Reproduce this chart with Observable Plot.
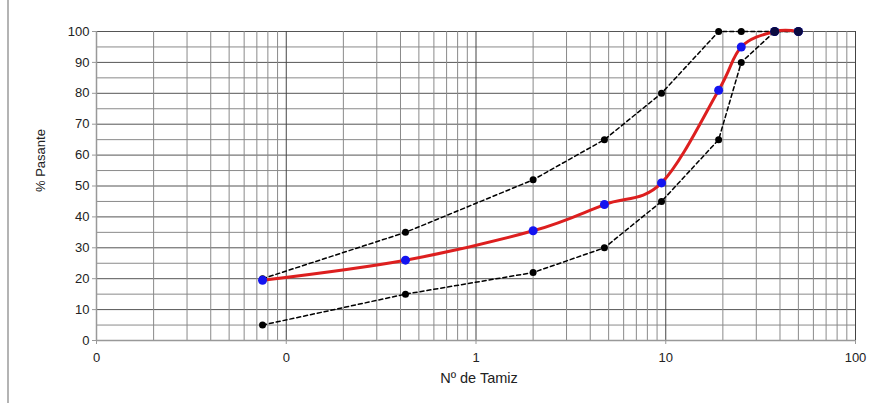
<!DOCTYPE html>
<html>
<head>
<meta charset="utf-8">
<script src="https://cdn.jsdelivr.net/npm/d3@7"></script>
<script src="https://cdn.jsdelivr.net/npm/@observablehq/plot@0.6"></script>
<style>
  html, body { margin: 0; padding: 0; background: #fff; }
  #wrap { position: relative; width: 876px; height: 403px; }
  #wrap::before { content: ""; position: absolute; left: 7px; top: 0; width: 2px; height: 403px; background: #b4b4b4; }
  svg { font-family: "Liberation Sans", Arial, sans-serif; }
</style>
</head>
<body>
<div id="wrap"></div>
<script>
// Sieve openings (mm)
const sieves = [0.075, 0.425, 2, 4.75, 9.5, 19, 25, 37.5, 50];
const upperLimit = [20, 35, 52, 65, 80, 100, 100, 100, 100];
const lowerLimit = [5, 15, 22, 30, 45, 65, 90, 100, 100];
const sample = [19.5, 26, 35.5, 44, 51, 81, 95, 100, 100];

const xTicks = [0.01, 0.1, 1, 10, 100];
const xTickLabels = ["0", "0", "1", "10", "100"];
const yTicks = [0, 10, 20, 30, 40, 50, 60, 70, 80, 90, 100];
const yGrid = d3.range(0, 101, 5);
const xGrid = [];
for (const dec of [0.01, 0.1, 1, 10]) for (let k = 1; k <= 9; k++) xGrid.push(+(dec * k).toPrecision(3));
xGrid.push(100);

const labelOf = new Map(xTicks.map((t, i) => [t, xTickLabels[i]]));
const up = sieves.map((s, i) => ({x: s, y: upperLimit[i]}));
const lo = sieves.map((s, i) => ({x: s, y: lowerLimit[i]}));
const sm = sieves.map((s, i) => ({x: s, y: sample[i]}));

const chart = Plot.plot({
  width: 876,
  height: 403,
  marginLeft: 96,
  marginRight: 21,
  marginTop: 31,
  marginBottom: 63,
  style: {fontFamily: "'Liberation Sans', Arial, sans-serif", fontSize: "13px", color: "#222", background: "#fff"},
  x: {type: "log", domain: [0.01, 100], range: [96, 855]},
  y: {domain: [0, 100]},
  marks: [
    Plot.ruleY(yGrid, {y: d => d, stroke: d => d % 10 === 0 ? "#555" : "#8a8a8a", strokeWidth: 1}),
    Plot.ruleX(xGrid, {x: d => d, stroke: d => xTicks.includes(d) ? "#444" : "#8a8a8a", strokeWidth: 1}),
    Plot.ruleY([0], {stroke: "#999", strokeWidth: 1.5}),
    Plot.ruleX([0.01], {stroke: "#999", strokeWidth: 1.5}),
    Plot.axisY(yTicks, {tickSize: 4, tickPadding: 3, fontSize: 13, stroke: "#999", fill: "#222", label: null}),
    Plot.axisX(xTicks, {tickSize: 4, tickPadding: 8, fontSize: 13, stroke: "#999", fill: "#222", tickFormat: d => labelOf.get(d), label: null}),
    Plot.text(["% Pasante"], {frameAnchor: "left", dx: -56, dy: 6, rotate: -90, fontSize: 13, fill: "#222"}),
    Plot.text(["Nº de Tamiz"], {frameAnchor: "bottom", dx: 3, dy: 42, fontSize: 14.5, fill: "#222"}),
    Plot.line(up, {x: "x", y: "y", stroke: "#000", strokeWidth: 1.5, strokeDasharray: "4,3"}),
    Plot.line(lo, {x: "x", y: "y", stroke: "#000", strokeWidth: 1.5, strokeDasharray: "4,3"}),
    Plot.dot(up, {x: "x", y: "y", r: 3.5, fill: "#000", stroke: "none"}),
    Plot.dot(lo, {x: "x", y: "y", r: 3.5, fill: "#000", stroke: "none"}),
    Plot.line(sm, {x: "x", y: "y", stroke: "#dd1f1f", strokeWidth: 3, curve: d3.curveCatmullRom.alpha(0)}),
    Plot.dot(sm, {x: "x", y: "y", r: 4.5, fill: "#1414f0", stroke: "none"}),
    Plot.dot(sm.filter(d => d.y === 100), {x: "x", y: "y", r: 4.5, fill: "#0a0a40", stroke: "none"})
  ]
});
document.getElementById("wrap").appendChild(chart);
</script>
</body>
</html>
